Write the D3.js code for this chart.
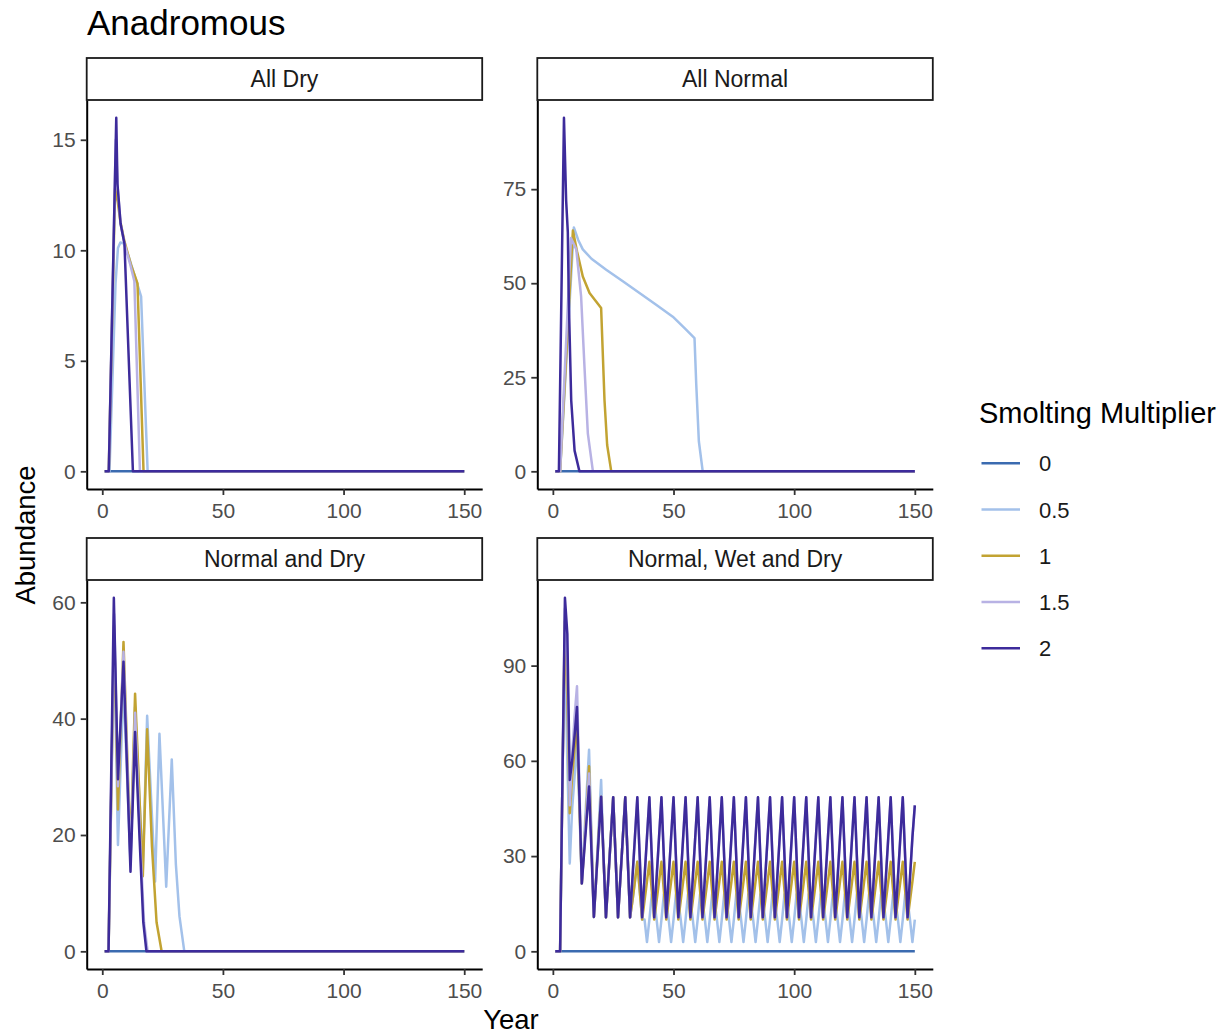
<!DOCTYPE html>
<html>
<head>
<meta charset="utf-8">
<script src="https://cdn.jsdelivr.net/npm/d3@7"></script>
<style>
  body { margin: 0; background: #ffffff; }
  text { font-family: "Liberation Sans", Arial, Helvetica, sans-serif; }
</style>
</head>
<body>
<svg id="chart" width="1225" height="1034"></svg>
<script>
// ---- Series labels, colours and facet names ----
const multipliers = ["0", "0.5", "1", "1.5", "2"];
const lineColors = ["#3b6bb0", "#a3c1ea", "#c2a332", "#b8b2e4", "#3d2b9b"];
const scenarios = ["All Dry", "All Normal", "Normal and Dry", "Normal, Wet and Dry"];

// ---- Tick labels ----
const yearTicks = [0, 50, 100, 150];
const yTicksAllDry = [0, 5, 10, 15];
const yTicksAllNormal = [0, 25, 50, 75];
const yTicksNormalDry = [0, 20, 40, 60];
const yTicksNormalWetDry = [0, 30, 60, 90];

const yearRange = [1, 150];

// ---- All Dry: [year, abundance] vertices per smolting multiplier ----
const allDry0 = [[1, 0], [150, 0]];
const allDry05 = [[1, 0], [3, 0], [5.5, 8.5], [6.5, 10.1], [7.5, 10.35], [9, 10.3], [11, 9.7], [13, 9.0], [15, 8.3], [16.1, 7.9], [18.8, 0], [150, 0]];
const allDry1 = [[1, 0], [2.7, 0], [5.3, 12.8], [6.4, 12.2], [7.5, 11.3], [9.2, 10.4], [12, 9.3], [14.6, 8.5], [17.1, 0], [150, 0]];
const allDry15 = [[1, 0], [2.7, 0], [5.6, 15.0], [6.4, 12.8], [7.6, 11.2], [9.2, 10.3], [11.5, 9.4], [13.3, 8.6], [15.6, 0], [150, 0]];
const allDry2 = [[1, 0], [2.7, 0], [5.8, 16.0], [6.3, 13.0], [7.6, 11.2], [9.2, 10.3], [12.7, 0], [150, 0]];

// ---- All Normal ----
const allNormal0 = [[1, 0], [150, 0]];
const allNormal05 = [[1, 0], [3, 0], [8.7, 64.8], [10.5, 61.5], [12.4, 59.0], [16, 56.5], [22.1, 53.6], [29, 50.5], [35.9, 47.4], [42.8, 44.3], [49.7, 41.1], [55, 37.8], [58.7, 35.4], [59.4, 23.4], [60.5, 8], [62.1, 0], [150, 0]];
const allNormal1 = [[1, 0], [3, 0], [8.3, 64.0], [10, 58.5], [12.4, 51.8], [15.2, 47.4], [20, 43.4], [21.4, 18.9], [22.5, 7], [24.2, 0], [150, 0]];
const allNormal15 = [[1, 0], [3, 0], [7.5, 62.0], [9.7, 59.0], [11.7, 46.5], [13.1, 27.8], [14.5, 10.0], [16.6, 0], [150, 0]];
const allNormal2 = [[1, 0], [2.5, 0], [4.6, 94.0], [5.5, 72.0], [6.2, 63.5], [6.6, 45.6], [7.6, 18.9], [9, 5.5], [11, 0], [150, 0]];

// ---- Normal and Dry ----
const normalDry0 = [[1, 0], [150, 0]];
const normalDry05 = [[1, 0], [2.6, 0], [4.9, 54.0], [6.5, 18.3], [8.8, 46.0], [11.7, 15.0], [13.6, 42.0], [16.8, 14.0], [18.6, 40.5], [21.9, 12.0], [23.7, 37.4], [26.5, 11.1], [28.8, 33.0], [30.5, 15.0], [32, 6.0], [34, 0], [150, 0]];
const normalDry1 = [[1, 0], [2.6, 0], [4.9, 56.0], [6.5, 24.4], [8.8, 53.2], [11.7, 17.0], [13.6, 44.3], [16.8, 12.9], [18.6, 38.2], [20.6, 18.0], [22.5, 5.0], [24.6, 0], [150, 0]];
const normalDry15 = [[1, 0], [2.6, 0], [4.9, 58.0], [6.5, 28.4], [8.8, 51.5], [11.7, 15.5], [13.6, 41.0], [15.6, 20.0], [17.3, 5.0], [18.8, 0], [150, 0]];
const normalDry2 = [[1, 0], [2.6, 0], [4.8, 60.8], [6.5, 29.6], [8.8, 49.8], [11.7, 13.7], [13.6, 37.7], [15.5, 19.0], [17, 5.0], [18.3, 0], [150, 0]];

// ---- Normal, Wet and Dry: yearly abundance, years 1..150 ----
const normalWetDry0 = [[1, 0], [150, 0]];
const normalWetDry05 = [
  0, 0, 0, 55.7, 100, 60, 27.7, 45, 55, 66,
  45, 21.4, 36, 50, 63.5, 37, 10.8, 25, 39.5, 54,
  29.6, 10.7, 23.3, 35.9, 48.5, 29.6, 10.7, 23.3, 35.9, 48.5,
  29.6, 10.7, 16, 22, 28.2, 19.1, 10, 10, 2.9, 10,
  18, 16, 10, 2.9, 10, 18, 16, 10, 2.9, 10,
  18, 16, 10, 2.9, 10, 18, 16, 10, 2.9, 10,
  18, 16, 10, 2.9, 10, 18, 16, 10, 2.9, 10,
  18, 16, 10, 2.9, 10, 18, 16, 10, 2.9, 10,
  18, 16, 10, 2.9, 10, 18, 16, 10, 2.9, 10,
  18, 16, 10, 2.9, 10, 18, 16, 10, 2.9, 10,
  18, 16, 10, 2.9, 10, 18, 16, 10, 2.9, 10,
  18, 16, 10, 2.9, 10, 18, 16, 10, 2.9, 10,
  18, 16, 10, 2.9, 10, 18, 16, 10, 2.9, 10,
  18, 16, 10, 2.9, 10, 18, 16, 10, 2.9, 10,
  18, 16, 10, 2.9, 10, 18, 16, 10, 2.9, 10
];
const normalWetDry1 = [
  0, 0, 0, 55.7, 104, 80, 43.5, 55, 64, 72,
  47, 21.4, 33, 46, 58.3, 34, 10.8, 23.6, 37, 48.7,
  29.6, 10.7, 23.3, 35.9, 48.5, 29.6, 10.7, 23.3, 35.9, 48.5,
  29.6, 10.7, 16, 22, 28.2, 19.1, 10, 16, 22, 28.2,
  19.1, 10, 16, 22, 28.2, 19.1, 10, 16, 22, 28.2,
  19.1, 10, 16, 22, 28.2, 19.1, 10, 16, 22, 28.2,
  19.1, 10, 16, 22, 28.2, 19.1, 10, 16, 22, 28.2,
  19.1, 10, 16, 22, 28.2, 19.1, 10, 16, 22, 28.2,
  19.1, 10, 16, 22, 28.2, 19.1, 10, 16, 22, 28.2,
  19.1, 10, 16, 22, 28.2, 19.1, 10, 16, 22, 28.2,
  19.1, 10, 16, 22, 28.2, 19.1, 10, 16, 22, 28.2,
  19.1, 10, 16, 22, 28.2, 19.1, 10, 16, 22, 28.2,
  19.1, 10, 16, 22, 28.2, 19.1, 10, 16, 22, 28.2,
  19.1, 10, 16, 22, 28.2, 19.1, 10, 16, 22, 28.2,
  19.1, 10, 16, 22, 28.2, 19.1, 10, 16, 22, 28.2
];
const normalWetDry15 = [
  0, 0, 0, 55.7, 108, 92, 46, 62, 74, 83.5,
  52, 21.4, 33, 45, 56, 33, 10.8, 23.5, 36, 48.7,
  29.6, 10.7, 23.3, 35.9, 48.5, 29.6, 10.7, 23.3, 35.9, 48.5,
  29.6, 10.7, 23.3, 35.9, 48.5, 29.6, 10.7, 23.3, 35.9, 48.5,
  29.6, 10.7, 23.3, 35.9, 48.5, 29.6, 10.7, 23.3, 35.9, 48.5,
  29.6, 10.7, 23.3, 35.9, 48.5, 29.6, 10.7, 23.3, 35.9, 48.5,
  29.6, 10.7, 23.3, 35.9, 48.5, 29.6, 10.7, 23.3, 35.9, 48.5,
  29.6, 10.7, 23.3, 35.9, 48.5, 29.6, 10.7, 23.3, 35.9, 48.5,
  29.6, 10.7, 23.3, 35.9, 48.5, 29.6, 10.7, 23.3, 35.9, 48.5,
  29.6, 10.7, 23.3, 35.9, 48.5, 29.6, 10.7, 23.3, 35.9, 48.5,
  29.6, 10.7, 23.3, 35.9, 48.5, 29.6, 10.7, 23.3, 35.9, 48.5,
  29.6, 10.7, 23.3, 35.9, 48.5, 29.6, 10.7, 23.3, 35.9, 48.5,
  29.6, 10.7, 23.3, 35.9, 48.5, 29.6, 10.7, 23.3, 35.9, 48.5,
  29.6, 10.7, 23.3, 35.9, 48.5, 29.6, 10.7, 23.3, 35.9, 48.5,
  29.6, 10.7, 23.3, 35.9, 48.5, 29.6, 10.7, 23.3, 35.9, 46
];
const normalWetDry2 = [
  0, 0, 0, 55.7, 111.4, 100, 54, 60, 68, 77,
  49, 21.4, 31.5, 41.7, 51.9, 31.3, 10.8, 23.4, 36, 48.7,
  29.6, 10.7, 23.3, 35.9, 48.5, 29.6, 10.7, 23.3, 35.9, 48.5,
  29.6, 10.7, 23.3, 35.9, 48.5, 29.6, 10.7, 23.3, 35.9, 48.5,
  29.6, 10.7, 23.3, 35.9, 48.5, 29.6, 10.7, 23.3, 35.9, 48.5,
  29.6, 10.7, 23.3, 35.9, 48.5, 29.6, 10.7, 23.3, 35.9, 48.5,
  29.6, 10.7, 23.3, 35.9, 48.5, 29.6, 10.7, 23.3, 35.9, 48.5,
  29.6, 10.7, 23.3, 35.9, 48.5, 29.6, 10.7, 23.3, 35.9, 48.5,
  29.6, 10.7, 23.3, 35.9, 48.5, 29.6, 10.7, 23.3, 35.9, 48.5,
  29.6, 10.7, 23.3, 35.9, 48.5, 29.6, 10.7, 23.3, 35.9, 48.5,
  29.6, 10.7, 23.3, 35.9, 48.5, 29.6, 10.7, 23.3, 35.9, 48.5,
  29.6, 10.7, 23.3, 35.9, 48.5, 29.6, 10.7, 23.3, 35.9, 48.5,
  29.6, 10.7, 23.3, 35.9, 48.5, 29.6, 10.7, 23.3, 35.9, 48.5,
  29.6, 10.7, 23.3, 35.9, 48.5, 29.6, 10.7, 23.3, 35.9, 48.5,
  29.6, 10.7, 23.3, 35.9, 48.5, 29.6, 10.7, 23.3, 35.9, 46
];

// yearly arrays start at year 1
const yearly = arr => arr.map((v, i) => [i + 1, v]);

// ---- Layout ----
const svg = d3.select("#chart");
const panelW = 395.5, plotH = 389, stripH = 42;
const colX = [86.7, 537.3], rowY = [100, 580];

const panels = [
  { title: scenarios[0], col: 0, row: 0, ticks: yTicksAllDry,
    series: [allDry0, allDry05, allDry1, allDry15, allDry2] },
  { title: scenarios[1], col: 1, row: 0, ticks: yTicksAllNormal,
    series: [allNormal0, allNormal05, allNormal1, allNormal15, allNormal2] },
  { title: scenarios[2], col: 0, row: 1, ticks: yTicksNormalDry,
    series: [normalDry0, normalDry05, normalDry1, normalDry15, normalDry2] },
  { title: scenarios[3], col: 1, row: 1, ticks: yTicksNormalWetDry,
    series: [normalWetDry0, yearly(normalWetDry05), yearly(normalWetDry1), yearly(normalWetDry15), yearly(normalWetDry2)] }
];

// ggplot-style 5% padding on both sides of a continuous range
const expand = ([a, b]) => { const p = (b - a) * 0.05; return [a - p, b + p]; };

svg.append("rect").attr("width", 1225).attr("height", 1034).attr("fill", "#ffffff");

panels.forEach(p => {
  const x0 = colX[p.col], y0 = rowY[p.row];
  const yMax = d3.max(p.series, s => d3.max(s, d => d[1]));
  const x = d3.scaleLinear().domain(expand(yearRange)).range([x0, x0 + panelW]);
  const y = d3.scaleLinear().domain(expand([0, yMax])).range([y0 + plotH, y0]);

  const g = svg.append("g");

  // data lines, drawn in legend order so the largest multiplier sits on top
  const line = d3.line().x(d => x(d[0])).y(d => y(d[1]));
  p.series.forEach((s, i) => {
    g.append("path")
      .datum(s)
      .attr("d", line)
      .attr("fill", "none")
      .attr("stroke", lineColors[i])
      .attr("stroke-width", 2.5)
      .attr("stroke-linejoin", "round");
  });

  // axes
  const yAxis = d3.axisLeft(y).tickValues(p.ticks).tickSizeInner(6).tickSizeOuter(0).tickPadding(5);
  const xAxis = d3.axisBottom(x).tickValues(yearTicks).tickSizeInner(6).tickSizeOuter(0).tickPadding(4);

  const ya = g.append("g").attr("transform", `translate(${x0},0)`).call(yAxis);
  const xa = g.append("g").attr("transform", `translate(0,${y0 + plotH})`).call(xAxis);
  [ya, xa].forEach(a => {
    a.select(".domain").attr("stroke", "#000").attr("stroke-width", 2);
    a.selectAll(".tick line").attr("stroke", "#333").attr("stroke-width", 1.8);
    a.selectAll(".tick text").attr("fill", "#4d4d4d").style("font-size", "21px")
      .style("font-family", "'Liberation Sans', Arial, sans-serif");
  });
  xa.selectAll(".tick text").attr("dy", "0.9em");

  // facet strip
  g.append("rect")
    .attr("x", x0).attr("y", y0 - stripH)
    .attr("width", panelW).attr("height", stripH)
    .attr("fill", "#ffffff").attr("stroke", "#1a1a1a").attr("stroke-width", 1.8);
  g.append("text")
    .attr("x", x0 + panelW / 2).attr("y", y0 - stripH / 2 + 8)
    .attr("text-anchor", "middle")
    .attr("fill", "#1a1a1a")
    .style("font-size", "23px")
    .text(p.title);
});

// plot title
svg.append("text").attr("x", 87).attr("y", 35)
  .attr("fill", "#000").style("font-size", "35px").text("Anadromous");

// axis titles
svg.append("text").attr("x", 511).attr("y", 1029)
  .attr("text-anchor", "middle").attr("fill", "#000").style("font-size", "27.5px").text("Year");
svg.append("text").attr("transform", "translate(35,535) rotate(-90)")
  .attr("text-anchor", "middle").attr("fill", "#000").style("font-size", "27.5px").text("Abundance");

// legend
const legend = svg.append("g");
legend.append("text").attr("x", 979).attr("y", 423)
  .attr("fill", "#000").style("font-size", "29px").text("Smolting Multiplier");
const legendY = d3.scalePoint().domain(multipliers).range([463.3, 648.3]);
multipliers.forEach((m, i) => {
  legend.append("line")
    .attr("x1", 981.5).attr("x2", 1020)
    .attr("y1", legendY(m)).attr("y2", legendY(m))
    .attr("stroke", lineColors[i]).attr("stroke-width", 2.5);
  legend.append("text")
    .attr("x", 1039).attr("y", legendY(m) + 8)
    .attr("fill", "#1a1a1a").style("font-size", "22px").text(m);
});
</script>
</body>
</html>
